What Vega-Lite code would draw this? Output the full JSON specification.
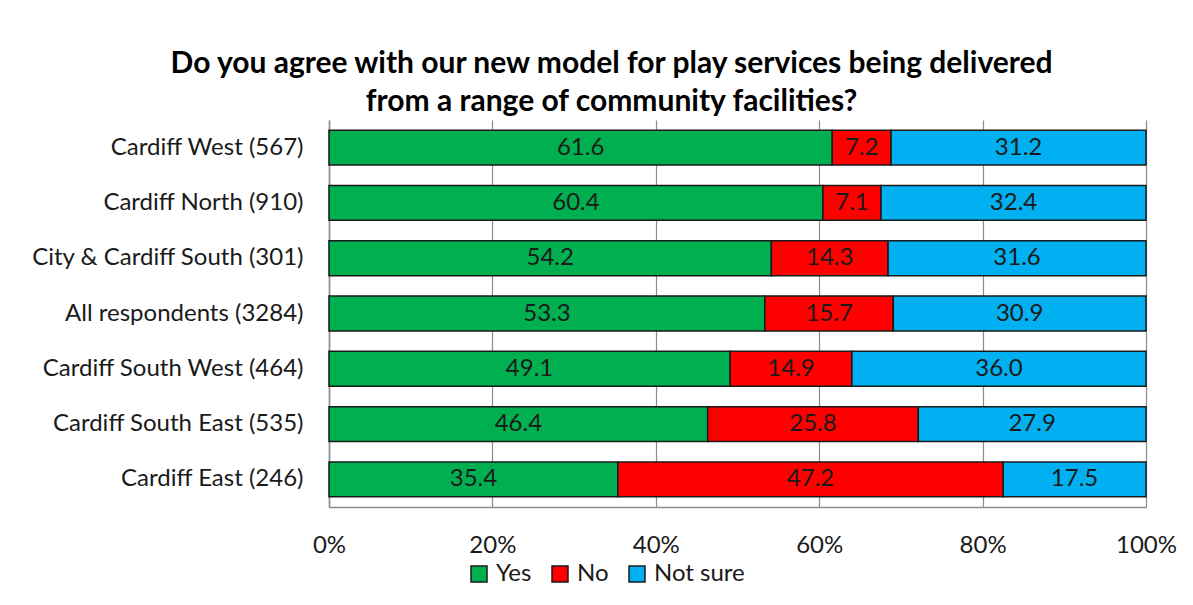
{
  "$schema": "https://vega.github.io/schema/vega-lite/v6.json",
  "width": 817,
  "height": 387,
  "autosize": {"type": "none"},
  "padding": {"left": 329, "top": 120, "right": 47, "bottom": 98},
  "background": "white",
  "title": {
    "text": ["Do you agree with our new model for play services being delivered", "from a range of community facilities?"],
    "font": "Lato",
    "fontSize": 30,
    "fontWeight": "bold",
    "color": "black",
    "anchor": "middle",
    "frame": "bounds",
    "lineHeight": 38,
    "offset": 3,
    "dx": 8
  },
  "data": {
    "values": [
      {"region": "Cardiff West (567)", "response": "Yes", "k": 1, "value": 61.6},
      {"region": "Cardiff West (567)", "response": "No", "k": 2, "value": 7.2},
      {"region": "Cardiff West (567)", "response": "Not sure", "k": 3, "value": 31.2},
      {"region": "Cardiff North (910)", "response": "Yes", "k": 1, "value": 60.4},
      {"region": "Cardiff North (910)", "response": "No", "k": 2, "value": 7.1},
      {"region": "Cardiff North (910)", "response": "Not sure", "k": 3, "value": 32.4},
      {"region": "City & Cardiff South (301)", "response": "Yes", "k": 1, "value": 54.2},
      {"region": "City & Cardiff South (301)", "response": "No", "k": 2, "value": 14.3},
      {"region": "City & Cardiff South (301)", "response": "Not sure", "k": 3, "value": 31.6},
      {"region": "All respondents (3284)", "response": "Yes", "k": 1, "value": 53.3},
      {"region": "All respondents (3284)", "response": "No", "k": 2, "value": 15.7},
      {"region": "All respondents (3284)", "response": "Not sure", "k": 3, "value": 30.9},
      {"region": "Cardiff South West (464)", "response": "Yes", "k": 1, "value": 49.1},
      {"region": "Cardiff South West (464)", "response": "No", "k": 2, "value": 14.9},
      {"region": "Cardiff South West (464)", "response": "Not sure", "k": 3, "value": 36.0},
      {"region": "Cardiff South East (535)", "response": "Yes", "k": 1, "value": 46.4},
      {"region": "Cardiff South East (535)", "response": "No", "k": 2, "value": 25.8},
      {"region": "Cardiff South East (535)", "response": "Not sure", "k": 3, "value": 27.9},
      {"region": "Cardiff East (246)", "response": "Yes", "k": 1, "value": 35.4},
      {"region": "Cardiff East (246)", "response": "No", "k": 2, "value": 47.2},
      {"region": "Cardiff East (246)", "response": "Not sure", "k": 3, "value": 17.5}
    ]
  },
  "encoding": {
    "y": {
      "field": "region",
      "type": "nominal",
      "sort": ["Cardiff West (567)", "Cardiff North (910)", "City & Cardiff South (301)", "All respondents (3284)", "Cardiff South West (464)", "Cardiff South East (535)", "Cardiff East (246)"],
      "scale": {"paddingInner": 0.37, "paddingOuter": 0.185},
      "axis": {
        "title": null,
        "ticks": false,
        "labelFont": "Lato",
        "labelFontSize": 24,
        "labelColor": "#1a1a1a",
        "labelPadding": 26,
        "labelLimit": 400,
        "domainColor": "#8c8c8c",
        "domainWidth": 1.5,
        "grid": false
      }
    },
    "x": {
      "field": "value",
      "type": "quantitative",
      "stack": "normalize",
      "scale": {"domain": [0, 1], "nice": false},
      "axis": {
        "title": null,
        "values": [0, 0.2, 0.4, 0.6, 0.8, 1],
        "format": ".0%",
        "ticks": false,
        "labelFlush": false,
        "labelFont": "Lato",
        "labelFontSize": 24,
        "labelColor": "#1a1a1a",
        "labelPadding": 26,
        "domainColor": "#8c8c8c",
        "domainWidth": 1.5,
        "grid": true,
        "gridColor": "#8c8c8c",
        "gridWidth": 1.2
      }
    },
    "order": {"field": "k", "type": "quantitative"}
  },
  "layer": [
    {
      "mark": {"type": "bar", "stroke": "#1a1a1a", "strokeWidth": 1.5},
      "encoding": {
        "color": {
          "field": "response",
          "type": "nominal",
          "sort": ["Yes", "No", "Not sure"],
          "scale": {"domain": ["Yes", "No", "Not sure"], "range": ["#00B050", "#FF0000", "#00B0F0"]},
          "legend": {
            "title": null,
            "orient": "none",
            "legendX": 138,
            "legendY": 442,
            "direction": "horizontal",
            "symbolType": "square",
            "symbolSize": 256,
            "symbolStrokeColor": "#1a1a1a",
            "symbolStrokeWidth": 1.5,
            "symbolOpacity": 1,
            "labelFont": "Lato",
            "labelFontSize": 24,
            "labelColor": "#1a1a1a",
            "labelOffset": 5,
            "columnPadding": 16
          }
        }
      }
    },
    {
      "mark": {"type": "text", "font": "Lato", "fontSize": 24, "color": "#1a1a1a", "baseline": "middle"},
      "encoding": {
        "x": {"field": "value", "type": "quantitative", "stack": "normalize", "bandPosition": 0.5},
        "text": {"field": "value", "type": "quantitative", "format": ".1f"}
      }
    }
  ],
  "config": {"view": {"stroke": null}}
}
